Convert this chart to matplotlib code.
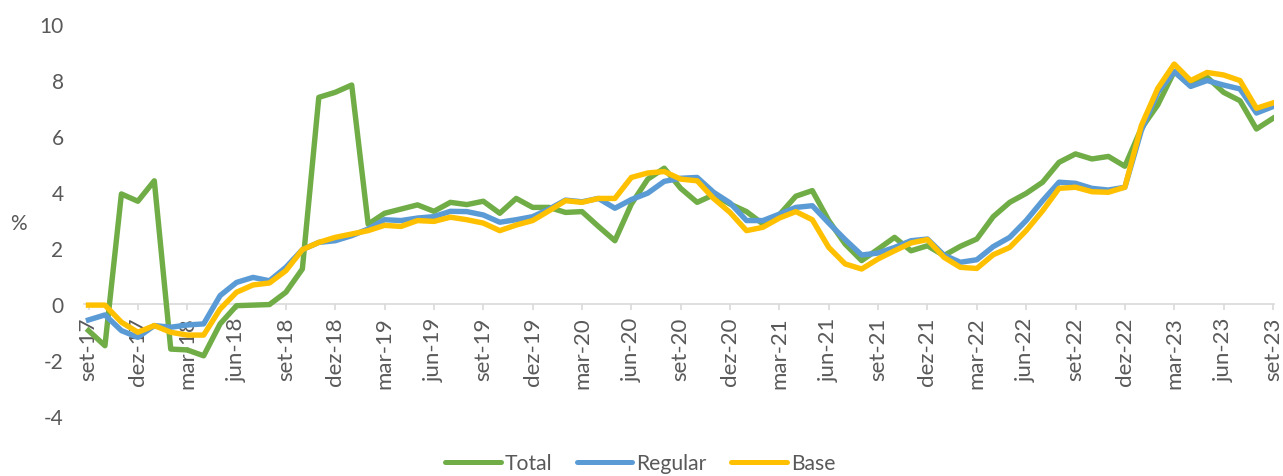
import matplotlib
matplotlib.use("Agg")
import matplotlib.pyplot as plt
import numpy as np

months = ["jan", "fev", "mar", "abr", "mai", "jun", "jul", "ago", "set", "out", "nov", "dez"]
# monthly labels from set-17 to set-23
dates = []
y, m = 2017, 8
while (y, m) <= (2023, 8):
    dates.append(f"{months[m]}-{str(y)[2:]}")
    m += 1
    if m == 12:
        m = 0
        y += 1

total = [-0.95, -1.49, 3.93, 3.67, 4.40, -1.61, -1.64, -1.85, -0.71, -0.06,
         -0.04, -0.02, 0.42, 1.25, 7.38, 7.56, 7.82, 2.85, 3.24, 3.39,
         3.54, 3.31, 3.63, 3.55, 3.67, 3.24, 3.77, 3.45, 3.45, 3.27,
         3.30, 2.77, 2.26, 3.57, 4.46, 4.85, 4.13, 3.63, 3.90, 3.57,
         3.30, 2.86, 3.19, 3.85, 4.05, 2.98, 2.14, 1.55, 1.96, 2.38,
         1.90, 2.08, 1.73, 2.06, 2.32, 3.12, 3.63, 3.95, 4.35, 5.06,
         5.36, 5.18, 5.27, 4.92, 6.27, 7.11, 8.30, 7.80, 8.10, 7.56,
         7.26, 6.25, 6.63]

regular = [-0.57, -0.39, -0.95, -1.19, -0.77, -0.83, -0.75, -0.71, 0.30, 0.77,
           0.95, 0.83, 1.31, 1.94, 2.20, 2.26, 2.44, 2.68, 3.01, 2.98,
           3.07, 3.12, 3.31, 3.30, 3.18, 2.92, 3.01, 3.12, 3.39, 3.71,
           3.65, 3.77, 3.42, 3.73, 3.96, 4.38, 4.49, 4.52, 3.99, 3.61,
           2.98, 2.98, 3.21, 3.45, 3.51, 2.89, 2.30, 1.75, 1.82, 2.02,
           2.26, 2.32, 1.75, 1.49, 1.58, 2.05, 2.38, 2.98, 3.69, 4.35,
           4.31, 4.13, 4.07, 4.17, 6.19, 7.56, 8.30, 7.77, 7.98, 7.82,
           7.68, 6.82, 7.05]

base = [-0.04, -0.04, -0.65, -1.01, -0.77, -1.01, -1.11, -1.11, -0.18, 0.42,
        0.68, 0.75, 1.19, 1.94, 2.20, 2.38, 2.50, 2.62, 2.81, 2.77,
        2.98, 2.95, 3.10, 3.01, 2.89, 2.62, 2.82, 2.98, 3.33, 3.69,
        3.63, 3.77, 3.77, 4.52, 4.68, 4.73, 4.46, 4.40, 3.77, 3.27,
        2.62, 2.74, 3.07, 3.30, 3.01, 2.02, 1.43, 1.25, 1.61, 1.90,
        2.18, 2.30, 1.67, 1.31, 1.27, 1.76, 2.02, 2.62, 3.33, 4.13,
        4.17, 4.01, 3.99, 4.17, 6.37, 7.70, 8.57, 7.98, 8.27, 8.18,
        7.98, 6.99, 7.18]

yticks = [-4, -2, 0, 2, 4, 6, 8, 10]

W, H = 1283, 477
fig = plt.figure(figsize=(W / 100, H / 100), dpi=100)
plt.rcParams['font.family'] = ['Lato', 'DejaVu Sans']

x0, pxm = 88.5, 16.45
xl, xr = -0.25, 72.05
left_px = x0 + xl * pxm
right_px = x0 + xr * pxm
top_px, bot_px = 25, 417
ax = fig.add_axes([left_px / W, 1 - bot_px / H, (right_px - left_px) / W, (bot_px - top_px) / H])

x = np.arange(len(dates))
lw = 3.9
ax.plot(x, total, color="#70AD47", lw=lw, label="Total")
ax.plot(x, regular, color="#5B9BD5", lw=lw, label="Regular")
ax.plot(x, base, color="#FFC000", lw=lw, label="Base")

ax.set_xlim(xl, xr)
ax.set_ylim(-4, 10)
ax.set_yticks(yticks)
ax.set_yticklabels([str(v) for v in yticks])

for s in ["top", "right", "left"]:
    ax.spines[s].set_visible(False)
ax.spines["bottom"].set_position(("data", 0))
ax.spines["bottom"].set_color("#D9D9D9")
ax.spines["bottom"].set_linewidth(1.2)
ax.spines["bottom"].set_zorder(0.5)

tick_idx = list(range(0, len(dates), 3))
ax.set_xticks(tick_idx)
ax.set_xticklabels([dates[i] for i in tick_idx], rotation=90)
ax.tick_params(axis="x", length=4.5, color="#D9D9D9", width=1.2, pad=4.5,
               labelsize=16, labelcolor="#595959")
ax.tick_params(axis="y", length=0, pad=15, labelsize=15, labelcolor="#595959")

fig.text(18 / W, 1 - 224 / H, "%", ha="center", va="center", fontsize=15, color="#595959")

leg = fig.legend(loc="center", bbox_to_anchor=(640 / W, 1 - 464 / H), ncol=3, frameon=False,
                 fontsize=15.2, handlelength=2.65, columnspacing=1.15, handletextpad=0.18,
                 borderpad=0, borderaxespad=0)
for t in leg.get_texts():
    t.set_color("#595959")
for h in leg.get_lines():
    h.set_solid_capstyle("round")
    h.set_linewidth(3.6)

fig.savefig("out.png", dpi=100)
